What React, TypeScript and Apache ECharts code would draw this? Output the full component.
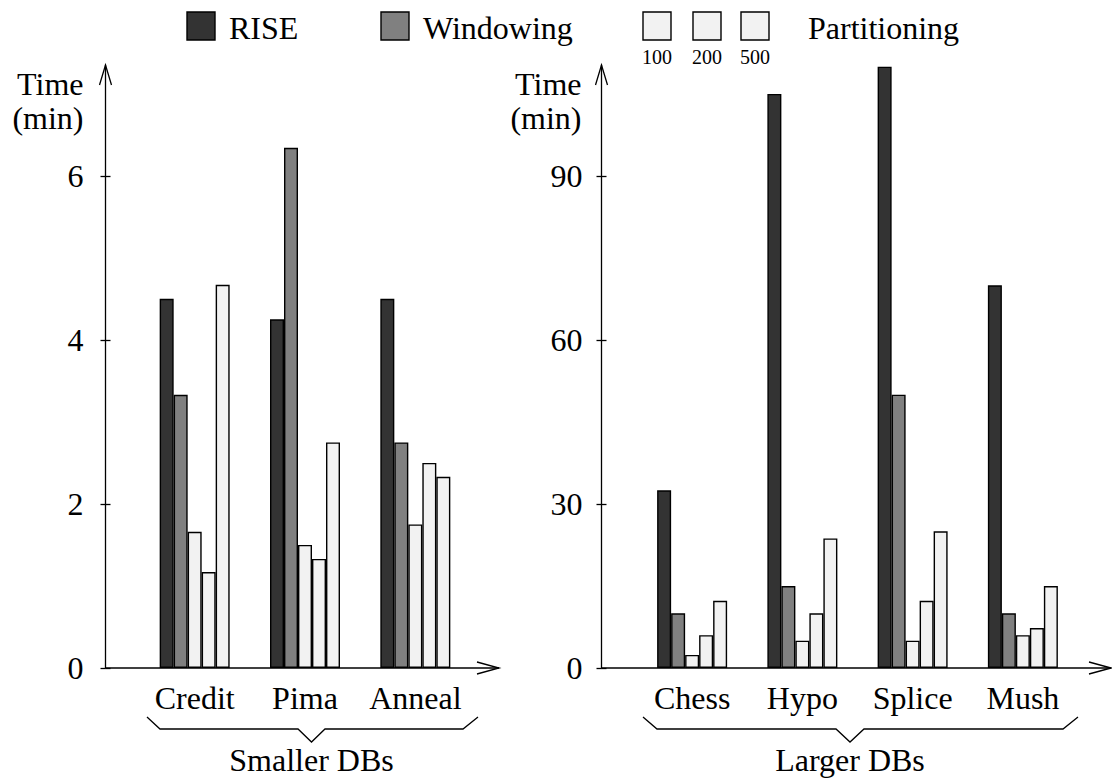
import React, { useEffect, useRef } from "react";
import * as echarts from "echarts";

// ---- data ----
const smallDBs = ["Credit", "Pima", "Anneal"];
const largeDBs = ["Chess", "Hypo", "Splice", "Mush"];

const riseSmall = [4.5, 4.25, 4.5];
const windowingSmall = [3.33, 6.34, 2.75];
const part100Small = [1.66, 1.5, 1.75];
const part200Small = [1.17, 1.33, 2.5];
const part500Small = [4.67, 2.75, 2.33];

const riseLarge = [32.5, 105, 110, 70];
const windowingLarge = [10, 15, 50, 10];
const part100Large = [2.4, 5, 5, 6];
const part200Large = [6, 10, 12.3, 7.3];
const part500Large = [12.3, 23.7, 25, 15];

const leftTicks = [0, 2, 4, 6];
const rightTicks = [0, 30, 60, 90];

const seriesNames = ["RISE", "Windowing", "Partitioning 100", "Partitioning 200", "Partitioning 500"];
const legendSizes = ["100", "200", "500"];

const FONT = '"Liberation Serif", "Times New Roman", serif';
const COL_RISE = "#333333";
const COL_WIN = "#808080";
const COL_PART = "#f2f2f2";

export default function App() {
  const ref = useRef<HTMLDivElement>(null);

  useEffect(() => {
    document.body.style.margin = "0";
    const chart = echarts.init(ref.current as HTMLDivElement, null, { renderer: "svg" });

    const axisLineStyle = { color: "#000", width: 1.3 };
    const labelStyle = { fontSize: 32, fontFamily: FONT, color: "#000" };

    const mainY = (grid: number, max: number, interval: number, ticks: number[], offset: number, margin: number) => ({
      gridIndex: grid,
      type: "value",
      position: "left",
      min: 0,
      max,
      interval,
      offset,
      axisLine: { show: true, lineStyle: axisLineStyle },
      axisTick: { show: true, length: 5, customValues: ticks, lineStyle: axisLineStyle },
      axisLabel: { ...labelStyle, margin, customValues: ticks },
      splitLine: { show: false },
    });
    const innerY = (grid: number, max: number, interval: number, ticks: number[], offset: number) => ({
      gridIndex: grid,
      type: "value",
      position: "left",
      min: 0,
      max,
      interval,
      offset,
      axisLine: { show: false },
      axisTick: { show: true, inside: true, length: 5, customValues: ticks, lineStyle: axisLineStyle },
      axisLabel: { show: false },
      splitLine: { show: false },
    });
    const catX = (grid: number, data: string[]) => ({
      gridIndex: grid,
      type: "category",
      data,
      axisLine: { show: false },
      axisTick: { show: false },
      axisLabel: { ...labelStyle, margin: 14, interval: 0, hideOverlap: false },
      splitLine: { show: false },
    });

    const fills = [COL_RISE, COL_WIN, COL_PART, COL_PART, COL_PART];
    const smallData = [riseSmall, windowingSmall, part100Small, part200Small, part500Small];
    const largeData = [riseLarge, windowingLarge, part100Large, part200Large, part500Large];

    const mkSeries = (data: number[][], xi: number, yi: number) =>
      data.map((d, i) => ({
        name: seriesNames[i],
        type: "bar",
        xAxisIndex: xi,
        yAxisIndex: yi,
        data: d,
        barWidth: 14,
        barGap: "0%",
        itemStyle: { color: fills[i], borderColor: "#000", borderWidth: 1.4 },
      }));

    const txt = (text: string, x: number, y: number, size: number, align = "left") => ({
      type: "text",
      x,
      y,
      style: {
        text,
        fill: "#000",
        fontSize: size,
        fontFamily: FONT,
        align,
        verticalAlign: "middle",
      },
    });
    const box = (x: number, fill: string) => ({
      type: "rect",
      shape: { x, y: 12, width: 28, height: 28 },
      style: { fill, stroke: "#000", lineWidth: 1.4 },
    });
    const pl = (points: number[][]) => ({
      type: "polyline",
      shape: { points },
      style: { stroke: "#000", lineWidth: 1.3, fill: null },
    });

    const LX = 105.5;
    const RX = 601.5;
    const BASE = 668;

    const graphic: any[] = [
      // legend
      box(187, COL_RISE),
      txt("RISE", 229, 28, 32),
      box(381, COL_WIN),
      txt("Windowing", 423, 28, 32),
      box(643, COL_PART),
      box(693, COL_PART),
      box(741, COL_PART),
      txt("Partitioning", 808, 28, 32),
      txt(legendSizes[0], 657, 57, 20, "center"),
      txt(legendSizes[1], 707, 57, 20, "center"),
      txt(legendSizes[2], 755, 57, 20, "center"),
      // axis titles
      txt("Time", LX - 22, 84, 32, "right"),
      txt("(min)", LX - 22, 118, 32, "right"),
      txt("Time", RX - 20, 84, 32, "right"),
      txt("(min)", RX - 20, 118, 32, "right"),
      // y arrowheads
      pl([[LX - 6, 85], [LX, 65], [LX + 6, 85]]),
      pl([[RX - 6, 85], [RX, 65], [RX + 6, 85]]),
      // x axes with arrowheads
      pl([[LX, BASE], [499, BASE]]),
      pl([[477, BASE - 6], [499, BASE], [477, BASE + 6]]),
      pl([[RX, BASE], [1111, BASE]]),
      pl([[1089, BASE - 6], [1111, BASE], [1089, BASE + 6]]),
      // braces
      pl([[147, 717], [160, 729], [298, 729], [311.5, 742], [325, 729], [463, 729], [478, 717]]),
      pl([[643, 717], [657, 729], [836, 729], [850, 742], [864, 729], [1063, 729], [1078, 717]]),
      txt("Smaller DBs", 311.5, 760, 32, "center"),
      txt("Larger DBs", 850, 760, 32, "center"),
    ];

    chart.setOption({
      animation: false,
      backgroundColor: "#fff",
      grid: [
        { left: 139.5, top: 65, width: 331, height: 603 },
        { left: 637, top: 65, width: 441, height: 603 },
      ],
      xAxis: [catX(0, smallDBs), catX(1, largeDBs)],
      yAxis: [
        mainY(0, 7.35, 2, leftTicks, 34, 22),
        innerY(0, 7.35, 2, leftTicks, 34),
        mainY(1, 110.3, 30, rightTicks, 35.5, 19),
        innerY(1, 110.3, 30, rightTicks, 35.5),
      ],
      series: [...mkSeries(smallData, 0, 0), ...mkSeries(largeData, 1, 2)],
      graphic,
    });

    return () => chart.dispose();
  }, []);

  return <div ref={ref} style={{ width: 1112, height: 780 }} />;
}
